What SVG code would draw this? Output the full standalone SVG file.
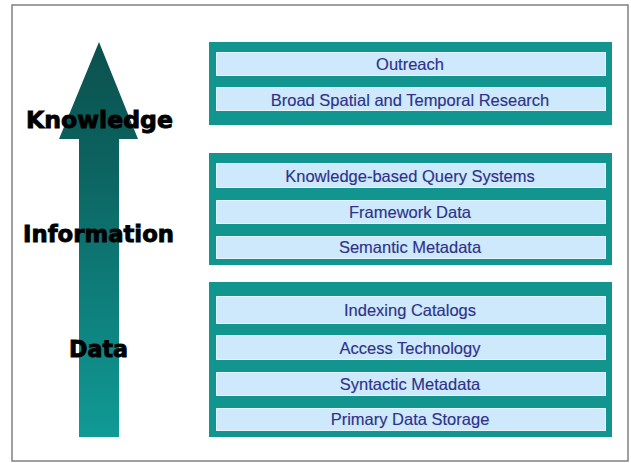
<svg xmlns="http://www.w3.org/2000/svg" width="631" height="463" viewBox="0 0 631 463">
  <defs>
    <linearGradient id="arrowGrad" x1="0" y1="42" x2="0" y2="437" gradientUnits="userSpaceOnUse">
      <stop offset="0" stop-color="#0b514e"/>
      <stop offset="0.3" stop-color="#0c625f"/>
      <stop offset="1" stop-color="#109a96"/>
    </linearGradient>
  </defs>
  <style>
    .panel { fill: #13958f; }
    .row { fill: #cde9fb; stroke: #e4f4ff; stroke-width: 1; }
    .rowtext { font-family: "Liberation Sans", Arial, sans-serif; font-size: 16.5px; fill: #2f318a; text-anchor: middle; stroke: #2f318a; stroke-width: 0.15; }
    .level { font-family: "DejaVu Sans", sans-serif; font-weight: bold; font-size: 23.5px; fill: #000; stroke: #000; stroke-width: 0.9; }
  </style>
  <rect x="0" y="0" width="631" height="463" fill="#ffffff"/>
  <rect id="frame" x="12" y="5" width="616" height="456" fill="#ffffff" stroke="#808080" stroke-width="1.5"/>

  <g id="arrow">
    <polygon points="99,42 138,139 119,139 119,437 79,437 79,139 59,139" fill="url(#arrowGrad)"/>
  </g>

  <g id="level-knowledge"><text class="level" x="26" y="128" textLength="147" lengthAdjust="spacingAndGlyphs">Knowledge</text></g>
  <g id="level-information"><text class="level" x="23" y="242" textLength="151" lengthAdjust="spacingAndGlyphs">Information</text></g>
  <g id="level-data"><text class="level" x="69" y="357" textLength="59" lengthAdjust="spacingAndGlyphs">Data</text></g>

  <g id="knowledge-panel">
    <rect class="panel" x="209" y="42" width="403" height="83"/>
    <g id="outreach"><rect class="row" x="216.5" y="52.5" width="389" height="23"/><text class="rowtext" x="410" y="69.5">Outreach</text></g>
    <g id="broad-research"><rect class="row" x="216.5" y="87.5" width="389" height="23"/><text class="rowtext" x="410" y="105.5">Broad Spatial and Temporal Research</text></g>
  </g>

  <g id="information-panel">
    <rect class="panel" x="209" y="153" width="403" height="112"/>
    <g id="kb-query"><rect class="row" x="216.5" y="163.5" width="389" height="24"/><text class="rowtext" x="410" y="181.5">Knowledge-based Query Systems</text></g>
    <g id="framework-data"><rect class="row" x="216.5" y="200.5" width="389" height="23"/><text class="rowtext" x="410" y="217.5">Framework Data</text></g>
    <g id="semantic-metadata"><rect class="row" x="216.5" y="236.5" width="389" height="22"/><text class="rowtext" x="410" y="253">Semantic Metadata</text></g>
  </g>

  <g id="data-panel">
    <rect class="panel" x="209" y="282" width="403" height="155"/>
    <g id="indexing-catalogs"><rect class="row" x="216.5" y="296.5" width="389" height="27"/><text class="rowtext" x="410" y="316">Indexing Catalogs</text></g>
    <g id="access-technology"><rect class="row" x="216.5" y="335.5" width="389" height="24"/><text class="rowtext" x="410" y="353.5">Access Technology</text></g>
    <g id="syntactic-metadata"><rect class="row" x="216.5" y="372.5" width="389" height="23"/><text class="rowtext" x="410" y="389.5">Syntactic Metadata</text></g>
    <g id="primary-storage"><rect class="row" x="216.5" y="408.5" width="389" height="22"/><text class="rowtext" x="410" y="425">Primary Data Storage</text></g>
  </g>

  <g id="connectors"></g>
</svg>
